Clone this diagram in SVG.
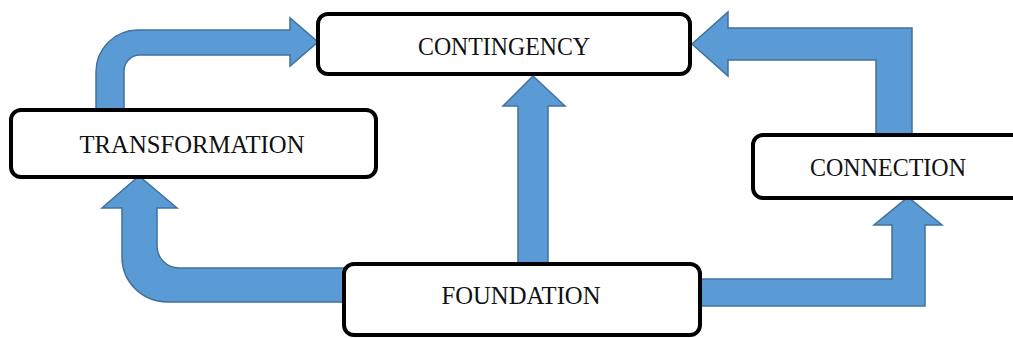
<svg xmlns="http://www.w3.org/2000/svg" width="1013" height="338" viewBox="0 0 1013 338">
  <style>
    .arrow { fill: #5B9BD5; stroke: #41719C; stroke-width: 1.5; stroke-linejoin: miter; }
    .box { fill: #FFFFFF; stroke: #000000; stroke-width: 4; }
    .label { font-family: "Liberation Serif", "Times New Roman", serif; font-size: 26px; fill: #111111; text-anchor: middle; }
  </style>
  <rect width="1013" height="338" fill="#FFFFFF"/>
  <g id="connectors">
    <path id="arrow-transformation-contingency" class="arrow" d="M96,112 L96,72 A42,42 0 0 1 138,30 L290,30 L290,18 L318,42 L290,66 L290,55 L140,55 A16,16 0 0 0 124,71 L124,112 Z"/>
    <path id="arrow-foundation-contingency" class="arrow" d="M518,266 L518,106 L503,106 L533,76 L565,106 L548,106 L548,266 Z"/>
    <path id="arrow-connection-contingency" class="arrow" d="M912,136 L912,28 L728,28 L728,12 L692,44 L728,76 L728,60 L876,60 L876,136 Z"/>
    <path id="arrow-foundation-connection" class="arrow" d="M698,279 L892,279 L892,225 L874,225 L908,197 L942,225 L925,225 L925,306 L698,306 Z"/>
    <path id="arrow-foundation-transformation" class="arrow" d="M346,268 L179,268 A22,22 0 0 1 157,246 L157,208 L177,208 L139,176 L102,208 L122,208 L122,257 A45,45 0 0 0 167,302 L346,302 Z"/>
  </g>
  <g id="node-contingency">
    <rect class="box" x="318" y="14" width="372" height="60" rx="10"/>
    <text class="label" x="504" y="55" textLength="172" lengthAdjust="spacingAndGlyphs">CONTINGENCY</text>
  </g>
  <g id="node-transformation">
    <rect class="box" x="11" y="110" width="365" height="67" rx="10"/>
    <text class="label" x="192" y="153" textLength="225" lengthAdjust="spacingAndGlyphs">TRANSFORMATION</text>
  </g>
  <g id="node-connection">
    <rect class="box" x="753" y="135" width="280" height="63" rx="10"/>
    <text class="label" x="888" y="176" textLength="156" lengthAdjust="spacingAndGlyphs">CONNECTION</text>
  </g>
  <g id="node-foundation">
    <rect class="box" x="344" y="264" width="356" height="71" rx="10"/>
    <text class="label" x="521" y="304" textLength="159" lengthAdjust="spacingAndGlyphs">FOUNDATION</text>
  </g>
</svg>
